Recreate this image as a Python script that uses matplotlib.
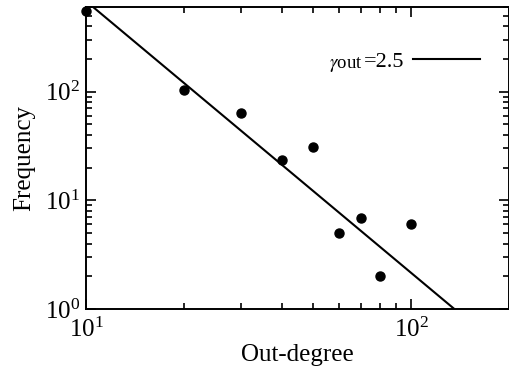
import matplotlib
matplotlib.use("Agg")
import matplotlib.pyplot as plt
import numpy as np

# data
out_degree = [10, 20, 30, 40, 50, 60, 70, 80, 100]
frequency = [550, 103, 63, 23.6, 31, 5.0, 6.9, 2.0, 6.0]
gamma_out = 2.5
fit_const = 2.15e5
fit_x = [10, 140]
legend_value = '=2.5'
legend_symbol = r'$\gamma$out'

plt.rcParams['font.family'] = ['Liberation Serif', 'DejaVu Serif']
plt.rcParams['mathtext.fontset'] = 'stix'

fig = plt.figure(figsize=(5.09, 3.73), dpi=100)
ax = fig.add_axes([86/509, 1-309/373, 1-86/509, (309-7)/373])

fx = np.array(fit_x, dtype=float)
ax.plot(fx, fit_const * fx ** (-gamma_out), color='black', lw=1.5, label=legend_value)
ax.plot(out_degree, frequency, 'o', color='black', ms=6.5, clip_on=False)

ax.set_xscale('log')
ax.set_yscale('log')
ax.set_xlim(10, 200)
ax.set_ylim(1, 600)

for s in ax.spines.values():
    s.set_linewidth(1.4)
ax.tick_params(which='both', direction='in', top=True, right=True, width=1.2, labelsize=18)
ax.tick_params(which='major', length=7)
ax.tick_params(which='minor', length=4)
ax.tick_params(axis='x', pad=6)
ax.tick_params(axis='y', pad=4)
ax.yaxis.set_minor_formatter(matplotlib.ticker.NullFormatter())
ax.xaxis.set_minor_formatter(matplotlib.ticker.NullFormatter())

ax.set_xlabel('Out-degree', fontsize=18, labelpad=2)
ax.set_ylabel('Frequency', fontsize=18, labelpad=7)

leg = ax.legend(loc='center right', bbox_to_anchor=(0.931, 0.818), frameon=False,
                markerfirst=False, handlelength=3.0, fontsize=16, handletextpad=0.4,
                borderpad=0, borderaxespad=0)

fig.canvas.draw()
bb = leg.get_texts()[0].get_window_extent()
fig.text(bb.x0 - 1, bb.y0 + 0.22 * bb.height, legend_symbol, transform=None,
         ha='right', va='baseline', fontsize=13.5)

fig.savefig('out.png', dpi=100)
